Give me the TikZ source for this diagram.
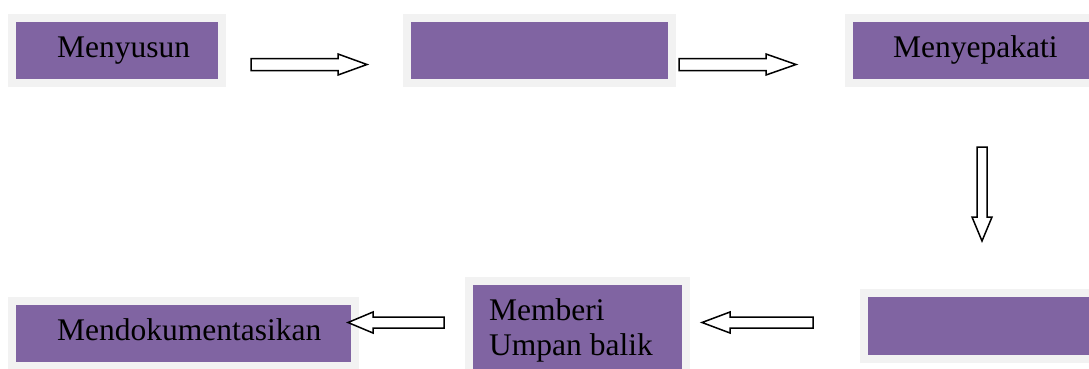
\documentclass[tikz,border=0pt]{standalone}
\usepackage{fontspec}
\setmainfont{Liberation Serif}
\definecolor{boxpurple}{HTML}{8064A2}
\definecolor{boxgray}{HTML}{F2F2F2}
\begin{document}
\begin{tikzpicture}[x=1pt,y=-1pt,
  box/.style={draw=boxgray, line width=8pt, fill=boxpurple, rectangle, inner sep=0pt, anchor=north west},
  lbl/.style={anchor=base west, inner sep=0pt, font=\fontsize{31.5}{36}\selectfont},
  barrow/.style={draw=black, line width=1.5pt, fill=white, line join=miter}]
\useasboundingbox (0,0) rectangle (1089,368);
\clip (0,0) rectangle (1089,368);
% boxes
\node[box, minimum width=210pt, minimum height=65pt] (b1) at (8,14) {};
\node[box, minimum width=265.5pt, minimum height=65pt] (b2) at (402.5,14) {};
\node[box, minimum width=265pt, minimum height=65pt] (b3) at (845,14) {};
\node[box, minimum width=265pt, minimum height=66pt] (b4) at (860,289) {};
\node[box, minimum width=217pt, minimum height=110pt] (b5) at (464.5,277) {};
\node[box, minimum width=342.5pt, minimum height=65.5pt] (b6) at (8,296.5) {};
% labels
\node[lbl] (t1) at (57,57) {Menyusun};
\node[lbl] (t3) at (893,57) {Menyepakati};
\node[lbl] (t5a) at (489,320) {Memberi};
\node[lbl] (t5b) at (489,355) {Umpan balik};
\node[lbl] (t6) at (57,340) {Mendokumentasikan};
% block arrows
\draw[barrow] (251,58.5) -- (338,58.5) -- (338,54) -- (367,64.5) -- (338,75) -- (338,70.5) -- (251,70.5) -- cycle;
\draw[barrow] (679,58.5) -- (766,58.5) -- (766,54) -- (796,64.5) -- (766,75) -- (766,70.5) -- (679,70.5) -- cycle;
\draw[barrow] (977,147) -- (987,147) -- (987,217) -- (992,217) -- (982,241) -- (972,217) -- (977,217) -- cycle;
\draw[barrow] (813,317) -- (730,317) -- (730,312) -- (702,322.5) -- (730,333) -- (730,328) -- (813,328) -- cycle;
\draw[barrow] (444,317) -- (373,317) -- (373,312) -- (348,322.5) -- (373,333) -- (373,328) -- (444,328) -- cycle;
\end{tikzpicture}
\end{document}
